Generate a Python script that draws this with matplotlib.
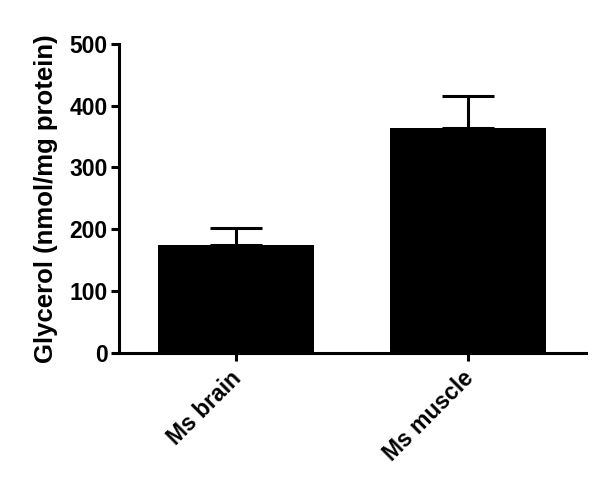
import numpy as np
import matplotlib.pyplot as plt
from matplotlib.transforms import ScaledTranslation

plt.rcParams['font.family'] = ['Liberation Sans', 'DejaVu Sans']
plt.rcParams['font.weight'] = 'bold'

groups = ['Ms brain', 'Ms muscle']
means = [175, 363]
sem = [27, 52]

fig = plt.figure(figsize=(6, 4.93), dpi=100)
ax = fig.add_axes([0.198, 0.2846, 0.779, 0.6265])

x = np.arange(len(groups))
ax.bar(x, means, width=0.672, color='black', zorder=2)
ax.errorbar(x, means, yerr=[np.zeros(len(sem)), sem], fmt='none',
            ecolor='black', elinewidth=2.2, capsize=19, capthick=2.2, zorder=1)

ax.set_xlim(-0.504, 1.509)
ax.set_ylim(0, 500)
ax.set_yticks(np.arange(0, 501, 100))
ax.set_xticks(x)
ax.set_xticklabels(groups, rotation=45, ha='right', rotation_mode='anchor')

for s in ['top', 'right']:
    ax.spines[s].set_visible(False)
for s in ['left', 'bottom']:
    ax.spines[s].set_linewidth(2.2)
ax.tick_params(width=2.2, length=6, labelsize=16.5, pad=2)

# shift the rotated labels a little left, like the original
shift = ScaledTranslation(-6 / 100, -3 / 100, fig.dpi_scale_trans)
for lbl in ax.get_xticklabels():
    lbl.set_transform(lbl.get_transform() + shift)

ax.set_ylabel('Glycerol (nmol/mg protein)', fontsize=18.5, fontweight='bold', labelpad=8)

fig.savefig('out.png', dpi=100)
